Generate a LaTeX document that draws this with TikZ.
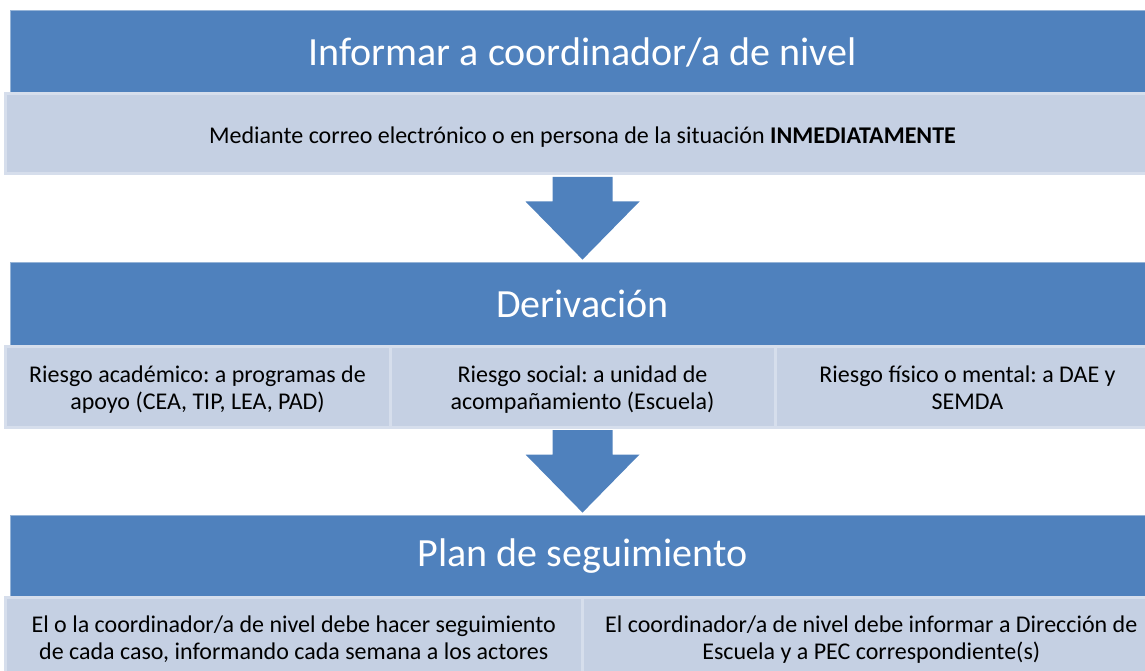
\documentclass[tikz,border=0pt]{standalone}
\usepackage{fontspec}
\setmainfont{Carlito}
\usetikzlibrary{calc}
\frenchspacing
\definecolor{hdr}{RGB}{79,129,189}
\definecolor{subfill}{RGB}{197,208,227}
\definecolor{subline}{RGB}{214,222,236}
\definecolor{hdrline}{RGB}{150,180,215}
\newcommand\lowtext[1]{\raisebox{-4pt}[\height][\depth]{\begin{tabular}{@{}c@{}}#1\end{tabular}}}
\begin{document}
\begin{tikzpicture}[x=1pt,y=1pt,
  header/.style={fill=hdr, draw=hdrline, line width=0.8pt, minimum width=1145pt, minimum height=84pt, inner sep=0pt, text=white, font=\fontsize{40}{46}\selectfont},
  subbox/.style={fill=subfill, draw=subline, line width=3pt, minimum height=80pt, inner sep=0pt, align=center, text=black, font=\fontsize{24}{27}\selectfont\frenchspacing},
  blockarrow/.style={fill=hdr, draw=none}]
\useasboundingbox (0,0) rectangle (1145,670);
% level 1
\node[header] (h1) at (582.5,618) {Informar a coordinador/a de nivel};
\node[subbox, minimum width=1155pt] (s1) at (582.5,536) {\lowtext{Mediante correo electrónico o en persona de la situación \textbf{INMEDIATAMENTE}}};
% level 2
\node[header] (h2) at (582.5,366) {Derivación};
\node[subbox, minimum width=385pt] (s2a) at (197.5,283) {\lowtext{Riesgo académico: a programas de\\apoyo (CEA, TIP, LEA, PAD)}};
\node[subbox, minimum width=385pt] (s2b) at (582.5,283) {\lowtext{Riesgo social: a unidad de\\acompañamiento (Escuela)}};
\node[subbox, minimum width=385pt] (s2c) at (967.5,283) {\lowtext{Riesgo físico o mental: a DAE y\\SEMDA}};
% level 3
\node[header, minimum height=82pt] (h3) at (582.5,114) {Plan de seguimiento};
\node[subbox, minimum width=577.5pt] (s3a) at (293.75,33) {\lowtext{El o la coordinador/a de nivel debe hacer seguimiento\\de cada caso, informando cada semana a los actores}};
\node[subbox, minimum width=577.5pt] (s3b) at (871.25,33) {\lowtext{El coordinador/a de nivel debe informar a Dirección de\\Escuela y a PEC correspondiente(s)}};
% arrows
\fill[blockarrow] ($(s1.south)+(-30,-1.5)$) -- ($(s1.south)+(30,-1.5)$) -- ($(s1.south)+(30,-26)$) -- ($(s1.south)+(57,-26)$)
  -- ($(h2.north)+(0,2)$) -- ($(s1.south)+(-57,-26)$) -- ($(s1.south)+(-30,-26)$) -- cycle;
\fill[blockarrow] ($(s2b.south)+(-30,-1.5)$) -- ($(s2b.south)+(30,-1.5)$) -- ($(s2b.south)+(30,-26)$) -- ($(s2b.south)+(57,-26)$)
  -- ($(h3.north)+(0,2)$) -- ($(s2b.south)+(-57,-26)$) -- ($(s2b.south)+(-30,-26)$) -- cycle;
\end{tikzpicture}
\end{document}
